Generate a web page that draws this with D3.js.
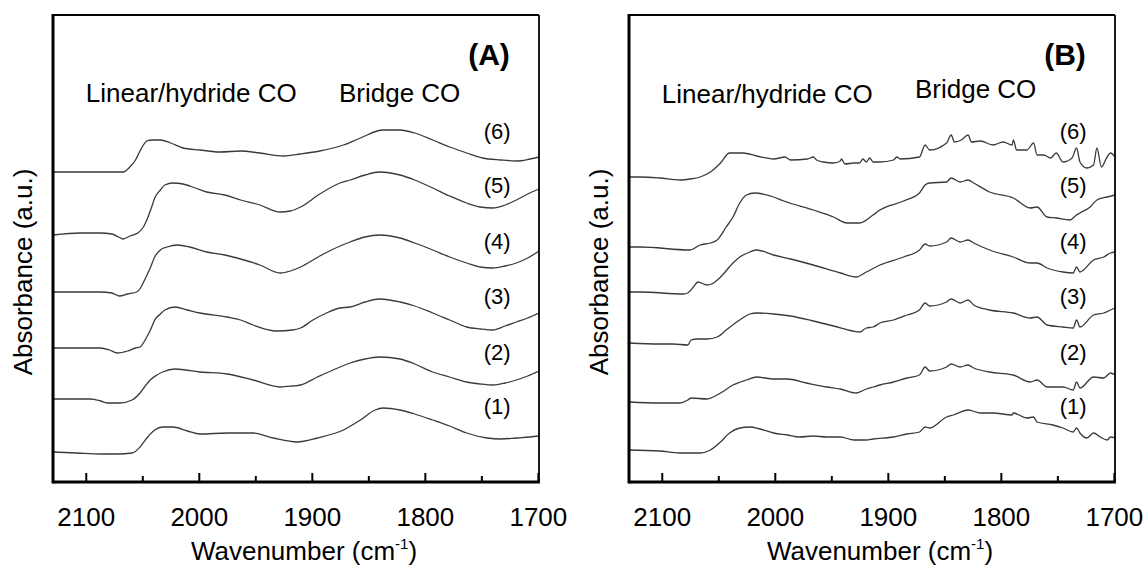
<!DOCTYPE html>
<html><head><meta charset="utf-8">
<script src="https://cdn.jsdelivr.net/npm/d3@7"></script>
<style>
body{margin:0;background:#fff}
text{font-family:"Liberation Sans",Arial,sans-serif;fill:#000}
</style>
</head><body>
<svg id="c" width="1148" height="568"></svg>
<script>
// ---- data: [wavenumber (cm-1), absorbance (a.u., stacked)] ----
const a1 = [[2129,0.30],[2108,0.29],[2087,0.28],[2072,0.28],[2059,0.29],[2052,0.35],[2046,0.44],[2039,0.52],[2032,0.55],[2023,0.55],[2010,0.51],[1999,0.48],[1975,0.49],[1952,0.49],[1934,0.44],[1913,0.40],[1895,0.44],[1872,0.52],[1857,0.62],[1844,0.72],[1837,0.74],[1822,0.72],[1809,0.68],[1793,0.62],[1778,0.56],[1763,0.49],[1745,0.44],[1733,0.43],[1719,0.44],[1707,0.45],[1699,0.46]];
const a2 = [[2129,0.83],[2096,0.83],[2087,0.81],[2081,0.79],[2070,0.79],[2059,0.82],[2052,0.89],[2048,0.95],[2043,1.02],[2037,1.07],[2032,1.10],[2021,1.13],[1999,1.10],[1975,1.08],[1952,1.02],[1928,0.95],[1917,0.96],[1910,0.97],[1895,1.05],[1875,1.15],[1866,1.19],[1853,1.23],[1840,1.25],[1822,1.23],[1809,1.18],[1793,1.10],[1778,1.05],[1763,1.00],[1751,0.98],[1740,0.97],[1729,0.99],[1719,1.02],[1709,1.06],[1699,1.11]];
const a3 = [[2129,1.34],[2087,1.34],[2079,1.32],[2072,1.29],[2063,1.31],[2056,1.34],[2052,1.35],[2048,1.41],[2046,1.45],[2042,1.54],[2039,1.62],[2034,1.68],[2030,1.72],[2021,1.75],[2010,1.72],[1999,1.69],[1975,1.65],[1963,1.62],[1952,1.57],[1931,1.51],[1917,1.52],[1910,1.54],[1899,1.62],[1887,1.69],[1875,1.74],[1866,1.75],[1853,1.80],[1840,1.83],[1822,1.80],[1809,1.76],[1793,1.69],[1778,1.62],[1763,1.55],[1751,1.53],[1740,1.52],[1729,1.56],[1719,1.60],[1709,1.64],[1699,1.69]];
const a4 = [[2129,1.90],[2087,1.90],[2077,1.89],[2070,1.86],[2063,1.88],[2055,1.90],[2051,1.95],[2048,2.02],[2043,2.14],[2039,2.25],[2034,2.32],[2028,2.35],[2019,2.37],[2008,2.35],[1993,2.30],[1977,2.27],[1963,2.23],[1946,2.17],[1928,2.09],[1919,2.11],[1910,2.15],[1893,2.26],[1875,2.36],[1866,2.40],[1853,2.45],[1840,2.47],[1822,2.44],[1809,2.39],[1793,2.32],[1778,2.25],[1763,2.19],[1751,2.15],[1740,2.14],[1729,2.16],[1719,2.19],[1709,2.24],[1699,2.31]];
const a5 = [[2129,2.47],[2105,2.49],[2087,2.49],[2077,2.48],[2071,2.45],[2067,2.43],[2061,2.46],[2054,2.49],[2049,2.55],[2046,2.62],[2042,2.74],[2039,2.84],[2034,2.92],[2030,2.97],[2023,2.99],[2014,2.98],[2003,2.94],[1993,2.90],[1977,2.87],[1963,2.82],[1946,2.77],[1928,2.70],[1919,2.71],[1910,2.75],[1893,2.88],[1875,2.99],[1866,3.02],[1853,3.07],[1840,3.10],[1822,3.07],[1809,3.02],[1793,2.94],[1778,2.86],[1763,2.79],[1751,2.75],[1740,2.74],[1729,2.77],[1719,2.82],[1709,2.88],[1699,2.93]];
const a6 = [[2129,3.10],[2087,3.10],[2067,3.10],[2061,3.15],[2056,3.22],[2052,3.31],[2049,3.37],[2046,3.41],[2041,3.42],[2034,3.42],[2025,3.39],[2014,3.34],[1999,3.32],[1981,3.30],[1963,3.31],[1946,3.29],[1925,3.26],[1910,3.28],[1893,3.31],[1872,3.37],[1857,3.44],[1837,3.52],[1822,3.52],[1809,3.49],[1793,3.42],[1778,3.35],[1763,3.29],[1749,3.24],[1733,3.22],[1719,3.21],[1707,3.23],[1699,3.25]];

const b1 = [[2129,0.32],[2102,0.31],[2084,0.29],[2066,0.29],[2057,0.32],[2048,0.40],[2040,0.49],[2031,0.54],[2022,0.55],[2013,0.53],[2001,0.49],[1989,0.47],[1978,0.45],[1966,0.46],[1954,0.45],[1942,0.45],[1930,0.42],[1919,0.42],[1913,0.43],[1895,0.45],[1883,0.48],[1872,0.50],[1867,0.55],[1863,0.54],[1848,0.65],[1842,0.67],[1829,0.72],[1818,0.69],[1807,0.69],[1790,0.67],[1789,0.69],[1777,0.64],[1771,0.65],[1768,0.60],[1754,0.57],[1745,0.54],[1736,0.50],[1733,0.54],[1730,0.49],[1724,0.44],[1718,0.49],[1712,0.45],[1706,0.42],[1703,0.45],[1699,0.44]];
const b2 = [[2129,0.80],[2102,0.79],[2084,0.79],[2077,0.82],[2074,0.84],[2060,0.83],[2048,0.89],[2037,0.97],[2025,1.02],[2016,1.05],[2001,1.03],[1989,1.03],[1972,0.99],[1954,0.95],[1942,0.93],[1928,0.89],[1919,0.93],[1913,0.95],[1907,0.97],[1895,1.00],[1883,1.04],[1872,1.07],[1867,1.15],[1863,1.11],[1848,1.15],[1844,1.18],[1836,1.15],[1829,1.17],[1824,1.14],[1810,1.10],[1789,1.07],[1774,1.00],[1768,1.02],[1759,0.95],[1745,0.95],[1736,0.92],[1733,1.00],[1730,0.94],[1718,1.05],[1709,1.04],[1703,1.09],[1699,1.07]];
const b3 = [[2129,1.39],[2102,1.38],[2090,1.38],[2077,1.37],[2074,1.42],[2069,1.43],[2060,1.43],[2051,1.45],[2043,1.52],[2031,1.62],[2022,1.68],[2016,1.69],[2001,1.68],[1986,1.66],[1966,1.61],[1948,1.56],[1931,1.51],[1925,1.50],[1919,1.54],[1913,1.55],[1907,1.59],[1895,1.62],[1883,1.67],[1872,1.72],[1867,1.79],[1863,1.76],[1848,1.80],[1844,1.83],[1836,1.79],[1829,1.82],[1824,1.77],[1810,1.72],[1789,1.69],[1774,1.64],[1768,1.65],[1759,1.57],[1745,1.55],[1736,1.54],[1733,1.62],[1730,1.55],[1718,1.67],[1709,1.69],[1703,1.72],[1699,1.74]];
const b4 = [[2129,1.90],[2119,1.90],[2081,1.88],[2077,1.89],[2072,1.95],[2068,2.00],[2060,1.97],[2056,1.98],[2048,2.05],[2037,2.19],[2031,2.25],[2022,2.30],[2016,2.32],[2001,2.27],[1986,2.23],[1966,2.17],[1942,2.09],[1928,2.05],[1919,2.10],[1907,2.17],[1886,2.25],[1872,2.32],[1867,2.38],[1863,2.36],[1848,2.40],[1844,2.44],[1836,2.40],[1829,2.42],[1824,2.39],[1810,2.32],[1789,2.25],[1774,2.19],[1768,2.19],[1759,2.14],[1745,2.10],[1736,2.09],[1733,2.15],[1730,2.10],[1718,2.22],[1709,2.25],[1703,2.29],[1699,2.30]];
const b5 = [[2129,2.35],[2119,2.35],[2075,2.32],[2066,2.37],[2057,2.39],[2051,2.42],[2043,2.55],[2037,2.65],[2031,2.79],[2025,2.87],[2018,2.89],[2001,2.85],[1992,2.81],[1966,2.72],[1948,2.65],[1936,2.59],[1925,2.59],[1913,2.67],[1907,2.72],[1886,2.81],[1872,2.89],[1867,2.97],[1863,2.99],[1848,3.00],[1844,3.04],[1836,3.00],[1829,3.02],[1824,2.99],[1810,2.90],[1789,2.84],[1774,2.74],[1768,2.75],[1759,2.65],[1751,2.64],[1739,2.62],[1733,2.67],[1730,2.69],[1721,2.75],[1715,2.82],[1706,2.85],[1699,2.87]];
const b6 = [[2129,3.05],[2119,3.05],[2102,3.04],[2084,3.02],[2075,3.03],[2066,3.05],[2057,3.10],[2048,3.19],[2040,3.29],[2028,3.29],[2016,3.26],[2001,3.23],[1991,3.25],[1986,3.22],[1971,3.23],[1966,3.25],[1963,3.22],[1957,3.20],[1948,3.19],[1942,3.21],[1941,3.23],[1938,3.18],[1930,3.19],[1925,3.19],[1922,3.23],[1919,3.20],[1916,3.24],[1913,3.20],[1907,3.20],[1895,3.22],[1892,3.25],[1889,3.23],[1872,3.25],[1867,3.37],[1863,3.32],[1848,3.39],[1844,3.47],[1841,3.40],[1835,3.42],[1829,3.47],[1826,3.40],[1818,3.41],[1807,3.37],[1798,3.40],[1790,3.37],[1789,3.42],[1786,3.32],[1777,3.32],[1771,3.39],[1768,3.27],[1762,3.27],[1756,3.24],[1751,3.29],[1745,3.20],[1737,3.24],[1733,3.34],[1730,3.20],[1724,3.14],[1718,3.17],[1715,3.34],[1711,3.15],[1706,3.25],[1703,3.29],[1699,3.25]];

const seriesLabels = ["(1)","(2)","(3)","(4)","(5)","(6)"];
const labelLevels = [0.68,1.22,1.78,2.33,2.89,3.43];   // a.u. at which the labels sit
const majorTicks = [2100,2000,1900,1800,1700];
const minorTicks = [2050,1950,1850,1750];
const xDomain = [2129,1699];
const yDomain = [0,4.67];
const panelNames = ["(A)","(B)"];

// ---- drawing ----
const svg = d3.select("#c");
svg.append("rect").attr("width",1148).attr("height",568).attr("fill","#fff");

const TOP = 15, BOTTOM = 482;
const panels = [
  {x0:53, x1:539, series:[a1,a2,a3,a4,a5,a6], name:panelNames[0], linY:101.5, brY:101.5},
  {x0:629, x1:1115, series:[b1,b2,b3,b4,b5,b6], name:panelNames[1], linY:103, brY:97.5}
];

panels.forEach(p => {
  const x = d3.scaleLinear().domain(xDomain).range([p.x0,p.x1]);
  const y = d3.scaleLinear().domain(yDomain).range([BOTTOM,TOP]);
  const g = svg.append("g");

  const line = d3.line().x(d=>x(d[0])).y(d=>y(d[1])).curve(d3.curveMonotoneX);
  p.series.forEach(s => {
    g.append("path").attr("d",line(s)).attr("fill","none")
      .attr("stroke","#3a3a3a").attr("stroke-width",1.3).attr("stroke-linejoin","round");
  });

  // series labels
  seriesLabels.forEach((t,i) => {
    g.append("text").attr("x",x(1736)).attr("y",y(labelLevels[i]))
      .attr("text-anchor","middle").attr("font-size",22).text(t);
  });

  // axes ticks
  const gMaj = g.append("g").attr("transform",`translate(0,${BOTTOM})`)
    .call(d3.axisBottom(x).tickValues(majorTicks).tickSize(-9).tickPadding(26).tickFormat(d3.format("d")));
  const gMin = g.append("g").attr("transform",`translate(0,${BOTTOM})`)
    .call(d3.axisBottom(x).tickValues(minorTicks).tickSize(-6).tickFormat(""));
  [gMaj,gMin].forEach(a => {
    a.select(".domain").remove();
    a.selectAll(".tick line").attr("stroke","#000").attr("stroke-width",2);
    a.selectAll("text").attr("font-size",26).attr("font-family","'Liberation Sans',Arial,sans-serif").attr("fill","#000");
  });

  // frame
  g.append("line").attr("x1",p.x0).attr("x2",p.x1).attr("y1",TOP).attr("y2",TOP).attr("stroke","#000").attr("stroke-width",1.8);
  g.append("line").attr("x1",p.x1).attr("x2",p.x1).attr("y1",TOP).attr("y2",BOTTOM).attr("stroke","#000").attr("stroke-width",1.8);
  g.append("line").attr("x1",p.x0).attr("x2",p.x0).attr("y1",TOP-0.9).attr("y2",BOTTOM+1.5).attr("stroke","#000").attr("stroke-width",3);
  g.append("line").attr("x1",p.x0).attr("x2",p.x1+0.9).attr("y1",BOTTOM).attr("y2",BOTTOM).attr("stroke","#000").attr("stroke-width",3);

  // panel letter
  g.append("text").attr("x",p.x1-50).attr("y",65).attr("text-anchor","middle")
    .attr("font-size",30).attr("font-weight","bold").text(p.name);
  // band annotations
  g.append("text").attr("x",x(2100)).attr("y",p.linY).attr("font-size",26).text("Linear/hydride CO");
  g.append("text").attr("x",x(1876)).attr("y",p.brY).attr("font-size",26).text("Bridge CO");

  // axis titles
  g.append("text").attr("transform",`translate(${p.x0-21},272) rotate(-90)`)
    .attr("text-anchor","middle").attr("font-size",26).text("Absorbance (a.u.)");
  const xt = g.append("text").attr("x",(p.x0+p.x1)/2+8).attr("y",560)
    .attr("text-anchor","middle").attr("font-size",26);
  xt.append("tspan").text("Wavenumber (cm");
  xt.append("tspan").attr("font-size",15).attr("dy",-11).text("-1");
  xt.append("tspan").attr("dy",11).text(")");
});
</script>
</body></html>
